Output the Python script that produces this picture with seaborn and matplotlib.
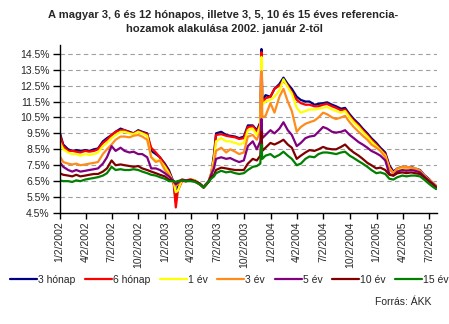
import matplotlib
matplotlib.use("Agg")
import matplotlib.pyplot as plt
import matplotlib.dates as mdates
from matplotlib.ticker import FixedLocator, FuncFormatter
import pandas as pd
import seaborn as sns

# Observation dates (roughly semi-monthly, denser around the sharp moves)
dates = [
    "2002-01-02", "2002-01-15", "2002-02-01", "2002-02-15", "2002-03-01", "2002-03-15",
    "2002-04-01", "2002-04-15", "2002-05-01", "2002-05-15", "2002-06-01", "2002-06-15",
    "2002-07-01", "2002-07-15", "2002-08-01", "2002-08-15", "2002-09-01", "2002-09-15",
    "2002-10-01", "2002-10-15", "2002-11-01", "2002-11-15", "2002-12-01", "2002-12-15",
    "2003-01-01", "2003-01-15", "2003-02-01", "2003-02-08", "2003-02-15", "2003-03-01",
    "2003-03-15", "2003-04-01", "2003-04-15", "2003-05-01", "2003-05-15", "2003-06-01",
    "2003-06-10", "2003-06-20", "2003-06-27", "2003-07-15", "2003-08-01", "2003-08-15",
    "2003-09-01", "2003-09-15", "2003-10-01", "2003-10-15", "2003-11-01", "2003-11-15",
    "2003-11-27", "2003-12-01", "2003-12-04", "2003-12-15", "2004-01-01", "2004-01-15",
    "2004-02-01", "2004-02-15", "2004-03-01", "2004-03-15", "2004-04-01", "2004-04-15",
    "2004-05-01", "2004-05-15", "2004-06-01", "2004-06-15", "2004-07-01", "2004-07-15",
    "2004-08-01", "2004-08-15", "2004-09-01", "2004-09-15", "2004-10-01", "2004-10-15",
    "2004-11-01", "2004-11-15", "2004-12-01", "2004-12-15", "2005-01-01", "2005-01-15",
    "2005-02-01", "2005-02-15", "2005-03-01", "2005-03-15", "2005-04-01", "2005-04-15",
    "2005-05-01", "2005-05-15", "2005-06-01", "2005-06-15", "2005-07-01", "2005-07-15",
    "2005-07-27",
]

# Reference yields, %
honap3 = [9.6, 8.8, 8.5, 8.4, 8.45, 8.4, 8.45, 8.4, 8.5, 8.55,
          9.0, 9.2, 9.4, 9.6, 9.8, 9.7, 9.6, 9.5, 9.7, 9.6,
          9.5, 8.4, 8.2, 8.0, 7.6, 7.2, 6.4, 5.2, 6.2, 6.55,
          6.5, 6.6, 6.55, 6.35, 6.15, 6.5, 6.9, 8.2, 9.5, 9.6,
          9.4, 9.35, 9.3, 9.2, 9.3, 10.0, 10.0, 9.7, 10.2, 14.8,
          11.5, 11.9, 11.8, 12.3, 12.6, 13.0, 12.6, 12.3, 11.8, 11.6,
          11.5, 11.5, 11.3, 11.35, 11.4, 11.45, 11.3, 11.2, 11.05, 11.1,
          10.7, 10.4, 10.1, 9.8, 9.5, 9.2, 8.9, 8.6, 8.3, 7.5,
          7.1, 7.3, 7.4, 7.35, 7.4, 7.3, 7.2, 6.9, 6.65, 6.4,
          6.2]
honap6 = [9.5, 8.7, 8.4, 8.4, 8.35, 8.3, 8.4, 8.35, 8.4, 8.5,
          8.9, 9.1, 9.4, 9.6, 9.7, 9.7, 9.55, 9.5, 9.65, 9.55,
          9.45, 8.6, 8.3, 8.0, 7.5, 7.1, 6.3, 4.85, 5.9, 6.5,
          6.5, 6.6, 6.5, 6.3, 6.1, 6.45, 6.85, 8.0, 9.4, 9.45,
          9.35, 9.3, 9.25, 9.15, 9.2, 9.9, 9.95, 9.6, 10.1, 14.6,
          11.4, 11.7, 11.8, 12.3, 12.5, 12.8, 12.5, 12.1, 11.6, 11.4,
          11.3, 11.3, 11.2, 11.2, 11.3, 11.35, 11.2, 11.1, 10.95, 11.0,
          10.6, 10.3, 10.0, 9.7, 9.4, 9.1, 8.8, 8.5, 8.2, 7.4,
          7.0, 7.25, 7.35, 7.3, 7.35, 7.25, 7.15, 6.85, 6.6, 6.35,
          6.15]
ev1 = [9.0, 8.5, 8.3, 8.2, 8.2, 8.1, 8.2, 8.15, 8.2, 8.3,
       8.7, 8.9, 9.2, 9.4, 9.6, 9.6, 9.5, 9.45, 9.6, 9.5,
       9.35, 8.0, 7.8, 7.8, 7.4, 7.0, 6.4, 5.8, 5.9, 6.6,
       6.55, 6.65, 6.55, 6.35, 6.1, 6.45, 7.0, 7.9, 9.0, 9.2,
       9.0, 9.0, 8.9, 8.8, 8.9, 9.7, 9.8, 9.4, 10.0, 14.3,
       11.3, 11.5, 11.6, 11.8, 12.2, 12.9, 12.4, 12.0, 11.1, 10.8,
       10.9, 11.0, 11.0, 11.05, 11.1, 11.15, 11.0, 10.9, 10.8, 10.9,
       10.5, 10.2, 9.9, 9.6, 9.3, 9.0, 8.7, 8.45, 8.1, 7.3,
       7.0, 7.25, 7.35, 7.35, 7.35, 7.3, 7.15, 6.85, 6.6, 6.4,
       6.2]
ev3 = [8.1, 7.7, 7.6, 7.55, 7.6, 7.5, 7.55, 7.6, 7.65, 7.7,
       8.2, 8.5, 8.8, 9.1, 9.3, 9.3, 9.25, 9.35, 9.4, 9.3,
       9.1, 8.0, 7.7, 7.8, 7.2, 6.9, 6.4, 6.2, 6.3, 6.6,
       6.55, 6.6, 6.5, 6.35, 6.1, 6.45, 7.0, 7.6, 8.4, 8.6,
       8.3, 8.5, 8.35, 8.2, 8.3, 9.3, 9.4, 9.1, 9.6, 13.4,
       10.5, 10.6, 11.4, 10.8, 11.8, 12.3, 11.5, 10.9, 9.6, 9.9,
       10.1, 10.2, 10.3, 10.5, 10.8, 10.7, 10.5, 10.4, 10.5, 10.6,
       10.2, 9.9, 9.6, 9.35, 9.1, 8.8, 8.6, 8.4, 8.0, 7.25,
       7.0, 7.3, 7.4, 7.4, 7.35, 7.3, 7.15, 6.85, 6.6, 6.4,
       6.2]
ev5 = [7.7, 7.4, 7.2, 7.1, 7.2, 7.1, 7.15, 7.2, 7.25, 7.3,
       7.6, 8.0, 8.7, 8.4, 8.6, 8.4, 8.3, 8.35, 8.2, 8.2,
       8.0, 7.3, 7.3, 7.2, 7.0, 6.8, 6.5, 6.3, 6.4, 6.6,
       6.55, 6.6, 6.5, 6.35, 6.1, 6.45, 6.9, 7.3, 7.9, 8.0,
       7.9, 7.95, 7.8, 7.7, 7.8, 8.7, 9.0, 8.5, 9.0, 10.4,
       9.2, 9.4, 9.7, 9.5, 9.8, 10.2, 9.7, 9.4, 8.7, 8.9,
       9.2, 9.3, 9.35, 9.6, 9.9, 9.8, 9.6, 9.55, 9.6, 9.7,
       9.4, 9.2, 8.95, 8.8, 8.6, 8.4, 8.25, 8.1, 7.8, 6.95,
       6.85, 7.1, 7.2, 7.15, 7.2, 7.15, 7.05, 6.8, 6.55, 6.35,
       6.15]
ev10 = [7.0, 6.9, 6.85, 6.8, 6.9, 6.8, 6.85, 6.9, 6.95, 6.95,
        7.1, 7.3, 7.8, 7.5, 7.55, 7.5, 7.45, 7.4, 7.45, 7.3,
        7.2, 7.1, 7.0, 6.9, 6.8, 6.6, 6.5, 6.4, 6.5, 6.55,
        6.5, 6.55, 6.5, 6.35, 6.1, 6.45, 6.75, 6.9, 7.2, 7.35,
        7.3, 7.25, 7.2, 7.2, 7.2, 7.6, 7.9, 7.8, 8.1, 9.6,
        8.4, 8.6, 8.9, 8.8, 8.95, 9.1, 8.8, 8.6, 7.9, 8.1,
        8.3, 8.45, 8.4, 8.5, 8.65, 8.55, 8.5, 8.5, 8.65, 8.8,
        8.5, 8.3, 8.1, 7.9, 7.65, 7.5, 7.3, 7.35, 7.2, 6.9,
        6.85, 7.0, 7.05, 7.0, 7.05, 7.0, 6.95, 6.75, 6.5, 6.3,
        6.1]
ev15 = [6.55, 6.5, 6.5, 6.45, 6.55, 6.5, 6.6, 6.65, 6.7, 6.75,
        6.85, 7.0, 7.4, 7.2, 7.25, 7.2, 7.2, 7.25, 7.2, 7.1,
        7.0, 6.9, 6.85, 6.75, 6.65, 6.5, 6.5, 6.45, 6.5, 6.55,
        6.5, 6.5, 6.45, 6.3, 6.1, 6.45, 6.65, 6.8, 7.0, 7.15,
        7.05, 7.1, 7.0, 6.95, 7.0, 7.2, 7.4, 7.45, 7.6, 8.8,
        7.9, 8.1, 8.2, 8.0, 8.15, 8.35, 8.1, 7.9, 7.5, 7.6,
        7.9, 8.05, 8.0, 8.2, 8.3, 8.3, 8.25, 8.2, 8.3, 8.35,
        8.1, 7.95, 7.75, 7.6, 7.4, 7.2, 7.0, 7.05, 6.95, 6.65,
        6.6, 6.75, 6.85, 6.8, 6.85, 6.85, 6.8, 6.6, 6.35, 6.15,
        6.0]

series_names = ["3 hónap", "6 hónap", "1 év", "3 év", "5 év", "10 év", "15 év"]
series_values = [honap3, honap6, ev1, ev3, ev5, ev10, ev15]
series_colors = ["#000080", "#FF0000", "#FFFF00", "#FF8C1A", "#800080", "#800000", "#008000"]

tick_dates = ["2002-01-02", "2002-04-02", "2002-07-02", "2002-10-02",
              "2003-01-02", "2003-04-02", "2003-07-02", "2003-10-02",
              "2004-01-02", "2004-04-02", "2004-07-02", "2004-10-02",
              "2005-01-02", "2005-04-02", "2005-07-02"]
tick_labels = ["1/2/2002", "4/2/2002", "7/2/2002", "10/2/2002",
               "1/2/2003", "4/2/2003", "7/2/2003", "10/2/2003",
               "1/2/2004", "4/2/2004", "7/2/2004", "10/2/2004",
               "1/2/2005", "4/2/2005", "7/2/2005"]
y_ticks = [4.5, 5.5, 6.5, 7.5, 8.5, 9.5, 10.5, 11.5, 12.5, 13.5, 14.5]

title_lines = ["A magyar 3, 6 és 12 hónapos, illetve 3, 5, 10 és 15 éves referencia-",
               "hozamok alakulása 2002. január 2-től"]
source_text = "Forrás: ÁKK"

sns.set_style("white")
plt.rcParams["font.family"] = ["Liberation Sans", "DejaVu Sans"]

frames = []
for name, vals in zip(series_names, series_values):
    frames.append(pd.DataFrame({"date": pd.to_datetime(dates), "hozam": vals, "lejárat": name}))
df = pd.concat(frames, ignore_index=True)

W, H = 449, 324
fig = plt.figure(figsize=(W / 100, H / 100), dpi=100)
ax = fig.add_axes([59.5 / W, 1 - 213 / H, (436.5 - 59.5) / W, (213 - 45) / H])

sns.lineplot(data=df, x="date", y="hozam", hue="lejárat", hue_order=series_names,
             palette=series_colors, estimator=None, linewidth=1.6, ax=ax, legend=False)

ax.set_xlim(pd.Timestamp("2002-01-02"), pd.Timestamp("2005-07-28"))
ax.set_ylim(4.5, 15.05)
ax.yaxis.set_major_locator(FixedLocator(y_ticks))
ax.yaxis.set_major_formatter(FuncFormatter(lambda v, p: f"{v:.1f}%"))
tick_nums = mdates.date2num(pd.to_datetime(tick_dates))
ax.set_xticks(tick_nums)
ax.set_xticklabels(tick_labels, rotation=90, va="top", ha="center")
ax.set_xlabel("")
ax.set_ylabel("")

ax.grid(False)
ax.yaxis.grid(True, linestyle=(0, (4, 3)), color="#A0A0A0", linewidth=0.8)
ax.set_axisbelow(True)
for side in ("top", "right"):
    ax.spines[side].set_visible(False)
for side in ("left", "bottom"):
    ax.spines[side].set_color("black")
    ax.spines[side].set_linewidth(1.0)
ax.tick_params(axis="x", direction="out", length=4, width=1, color="black",
               labelsize=7.5, pad=2, bottom=True)
ax.tick_params(axis="y", direction="out", length=5, width=1, color="black",
               labelsize=7.5, pad=2, left=True)

fig.text(223 / W, 1 - 15 / H, title_lines[0], ha="center", va="center",
         fontsize=8, fontweight="bold")
fig.text(224 / W, 1 - 29 / H, title_lines[1], ha="center", va="center",
         fontsize=8, fontweight="bold")

handles = [plt.Line2D([], [], color=c, linewidth=1.6) for c in series_colors]
fig.legend(handles, series_names, loc="center", bbox_to_anchor=(229.5 / W, 1 - 280 / H),
           ncol=7, frameon=False, fontsize=7.5, handlelength=2.6, handletextpad=0.1,
           columnspacing=0.9, borderpad=0)

fig.text(431 / W, 1 - 302 / H, source_text, ha="right", va="center", fontsize=7.5)

fig.savefig("out.png", dpi=100)
